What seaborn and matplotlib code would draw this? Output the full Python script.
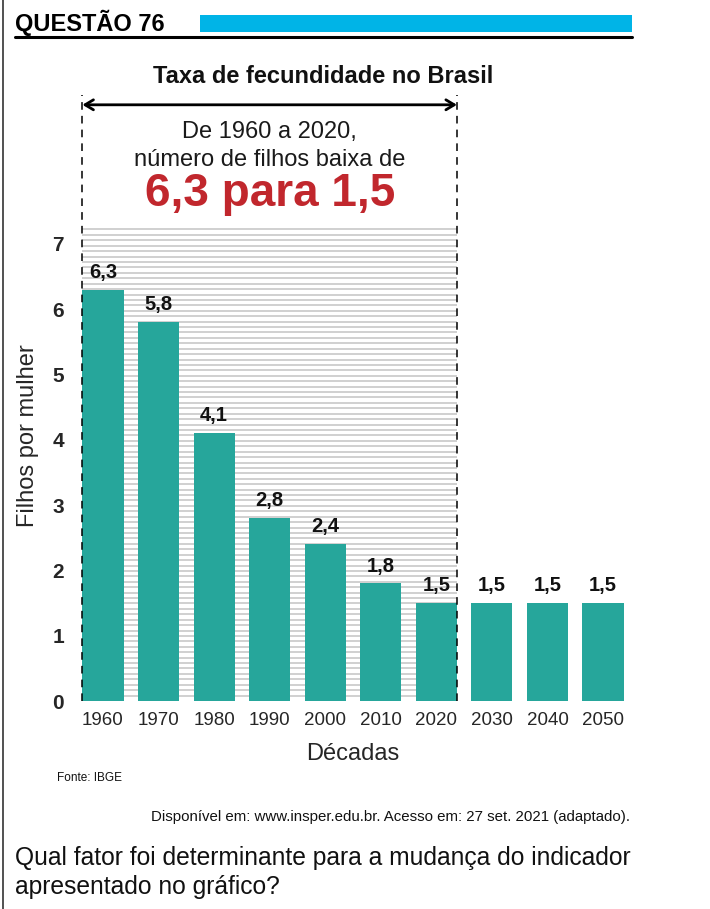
import numpy as np
import pandas as pd
import matplotlib
matplotlib.use("Agg")
import matplotlib.pyplot as plt
from matplotlib.lines import Line2D
from matplotlib.patches import Rectangle
import seaborn as sns

decades = ["1960", "1970", "1980", "1990", "2000", "2010", "2020", "2030", "2040", "2050"]
values = [6.3, 5.8, 4.1, 2.8, 2.4, 1.8, 1.5, 1.5, 1.5, 1.5]
labels = ["6,3", "5,8", "4,1", "2,8", "2,4", "1,8", "1,5", "1,5", "1,5", "1,5"]
yticks = [0, 1, 2, 3, 4, 5, 6, 7]

sns.set_theme(style="white")
plt.rcParams['font.family'] = ['Liberation Sans', 'DejaVu Sans']

fig = plt.figure(figsize=(7.1, 9.09), dpi=100)
ax = fig.add_axes([0.1059, 0.2288, 0.7826, 0.6753])

df = pd.DataFrame({"Década": decades, "Filhos": values})
bar_color = "#26a69b"
sns.barplot(data=df, x="Década", y="Filhos", color=bar_color, width=0.74,
            saturation=1, linewidth=0, ax=ax, zorder=3)

ax.set_xlim(-0.5, 9.5)
ax.set_ylim(0, 9.4)
for s in ax.spines.values():
    s.set_visible(False)

# striped background over the 1960-2020 window
xl, xr = -0.37, 6.37
ax.hlines(np.arange(0.083, 7.25, 0.083), xl, xr, color="#c8c8c8", lw=1.2, zorder=1)
# dashed boundaries
for xv in (xl, xr):
    ax.plot([xv, xv], [0, 9.28], color="black", lw=1.1, ls=(0, (5, 4)), zorder=4)
# double arrow
ax.annotate("", xy=(xr, 9.13), xytext=(xl, 9.13),
            arrowprops=dict(arrowstyle="<->,head_length=0.5,head_width=0.3", color="black", lw=2,
                            mutation_scale=12, shrinkA=0, shrinkB=0))
ax.text(3.0, 8.71, "De 1960 a 2020,", ha="center", va="center", fontsize=17, color="#1a1a1a")
ax.text(3.0, 8.28, "número de filhos baixa de", ha="center", va="center", fontsize=17, color="#1a1a1a")
ax.text(3.0, 7.76, "6,3 para 1,5", ha="center", va="center", fontsize=33, fontweight="bold",
        color="#c1272d")

# value labels
for i, (v, lab) in enumerate(zip(values, labels)):
    ax.text(i, v + 0.12, lab, ha="center", va="bottom", fontsize=14.5, fontweight="bold",
            color="#111111", zorder=5)

ax.set_yticks(yticks)
ax.set_yticklabels([str(t) for t in yticks], fontsize=15, fontweight="bold")
ax.tick_params(axis="y", length=0, pad=8)
ax.tick_params(axis="x", length=0, pad=8, labelsize=13.5)
ax.set_xlabel("Décadas", fontsize=17, labelpad=10)
ax.set_ylabel("Filhos por mulher", fontsize=17)
ax.yaxis.set_label_coords(-0.066, 0.433)

# title
fig.text(0.455, 0.916, "Taxa de fecundidade no Brasil", ha="center", va="center",
         fontsize=17, fontweight="bold", color="#111111")

# header
fig.text(15 / 710, 1 - 23 / 909, "QUESTÃO 76", ha="left", va="center", fontsize=17,
         fontweight="bold", color="black")
fig.add_artist(Rectangle((200 / 710, 1 - 32 / 909), 432 / 710, 17 / 909,
                         transform=fig.transFigure, color="#00b4e7", lw=0))
fig.add_artist(Line2D([15 / 710, 632 / 710], [1 - 37 / 909, 1 - 37 / 909],
                      transform=fig.transFigure, color="black", lw=2.2))
# left frame line
fig.add_artist(Line2D([3 / 710, 3 / 710], [0, 1], transform=fig.transFigure,
                      color="#333333", lw=1.2))

# footers
fig.text(57 / 710, 1 - 778 / 909, "Fonte: IBGE", ha="left", va="center", fontsize=8.5,
         color="#111111")
fig.text(630 / 710, 1 - 817 / 909,
         "Disponível em: www.insper.edu.br. Acesso em: 27 set. 2021 (adaptado).",
         ha="right", va="center", fontsize=10.8, color="#111111")
fig.text(15 / 710, 1 - 858 / 909, "Qual fator foi determinante para a mudança do indicador",
         ha="left", va="center", fontsize=17.7, color="#111111")
fig.text(15 / 710, 1 - 887 / 909, "apresentado no gráfico?",
         ha="left", va="center", fontsize=17.7, color="#111111")

fig.savefig("out.png", dpi=100)
